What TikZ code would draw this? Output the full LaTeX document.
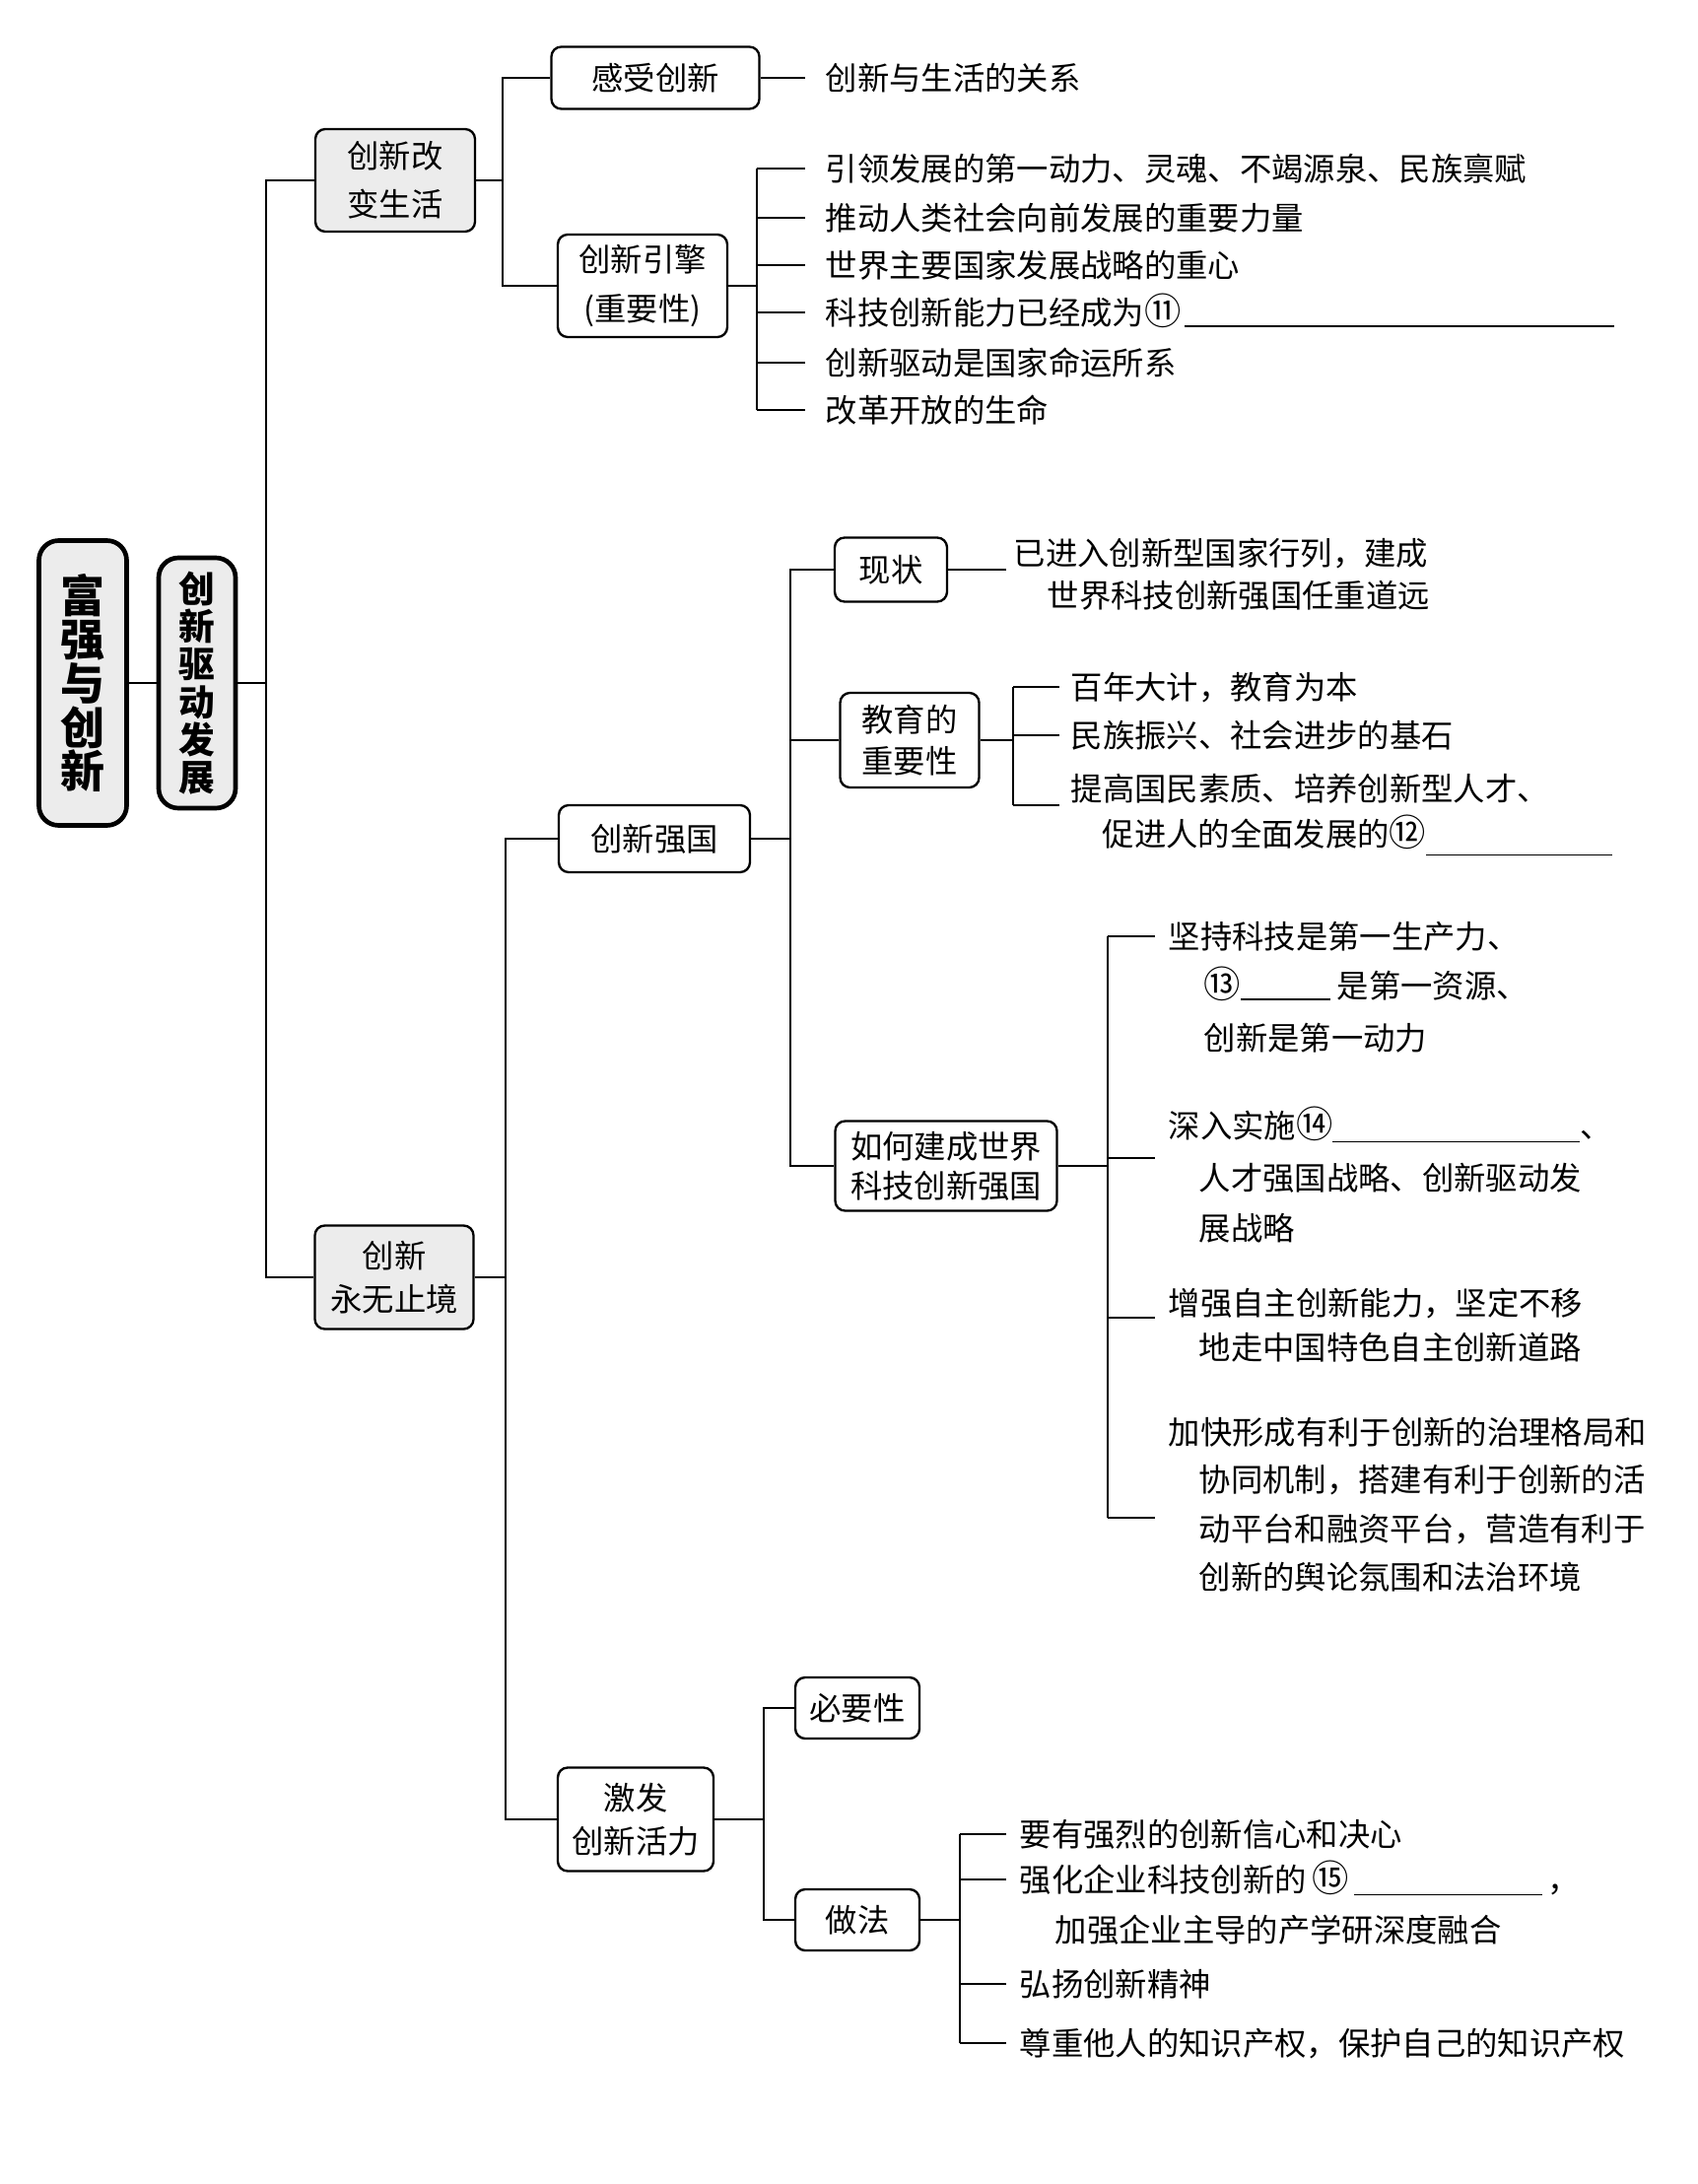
\documentclass[tikz,border=0pt]{standalone}
\usepackage{fontspec}
\setmainfont{Noto Sans CJK SC}
\newcommand{\ft}{\fontsize{9.7}{12}\selectfont}
\newcommand{\fsk}[1]{\fontsize{9.7}{#1}\selectfont}
\newcommand{\cnum}[1]{{\fontsize{11.2}{12}\selectfont #1}}
\begin{document}
\begin{tikzpicture}[x=0.3pt,y=-0.3pt,
  ln/.style={line width=0.5pt},
  box/.style={draw, line width=0.7pt, rounded corners=3pt, align=center, inner sep=0pt, font=\ft},
  gbox/.style={box, fill=gray!15},
  rootbox/.style={draw, line width=1.4pt, rounded corners=6pt, fill=gray!15, align=center, inner sep=0pt},
  txt/.style={anchor=west, inner sep=0pt, font=\ft, text height=8.5pt, text depth=1.2pt},
]
\useasboundingbox (0,0) rectangle (1722,2216);
\fill[white] (0,0) rectangle (1722,2216);

% bus coordinates
\coordinate (bA) at (270,0);
\coordinate (bB) at (510,0);
\coordinate (bC) at (768,0);
\coordinate (bD) at (513,0);
\coordinate (bE) at (802,0);
\coordinate (bF) at (1028,0);
\coordinate (bG) at (1124,0);
\coordinate (bH) at (775,0);
\coordinate (bI) at (974,0);

% boxes
\node[rootbox, minimum width=26.7pt, minimum height=86.7pt, font={\fontsize{13.5}{13.4}\selectfont\bfseries}] (root) at (84,693) {富\\强\\与\\创\\新};
\node[rootbox, minimum width=23.4pt, minimum height=76.2pt, font={\fontsize{11}{11.5}\selectfont\bfseries}] (drive) at (200,693) {创\\新\\驱\\动\\发\\展};
\node[gbox, minimum width=48.6pt, minimum height=31.2pt, font=\fsk{14.8}] (life) at (401,183) {创新改\\变生活};
\node[gbox, minimum width=48.3pt, minimum height=31.5pt, font=\fsk{13.1}] (endless) at (400,1296) {创新\\永无止境};
\node[box, minimum width=63.3pt, minimum height=18.9pt] (feel) at (665,79) {感受创新};
\node[box, minimum width=51.6pt, minimum height=31.2pt, font=\fsk{14.8}] (engine) at (652,290) {创新引擎\\(重要性)};
\node[box, minimum width=58.2pt, minimum height=20.4pt] (strong) at (664,851) {创新强国};
\node[box, minimum width=34.2pt, minimum height=19.5pt] (status) at (904,578) {现状};
\node[box, minimum width=42.3pt, minimum height=28.8pt, font=\fsk{12.7}] (edu) at (923,751) {教育的\\重要性};
\node[box, minimum width=67.5pt, minimum height=27.3pt, font=\fsk{11.9}] (howto) at (960,1183) {如何建成世界\\科技创新强国};
\node[box, minimum width=47.4pt, minimum height=31.5pt, font=\fsk{13.1}] (spark) at (645,1846) {激发\\创新活力};
\node[box, minimum width=37.8pt, minimum height=18.6pt] (need) at (870,1733) {必要性};
\node[box, minimum width=37.8pt, minimum height=18.6pt] (method) at (870,1948) {做法};

% texts
\node[txt] (f1) at (837,79) {创新与生活的关系};
\node[txt] (e1) at (837,171) {引领发展的第一动力、灵魂、不竭源泉、民族禀赋};
\node[txt] (e2) at (837,221) {推动人类社会向前发展的重要力量};
\node[txt] (e3) at (837,269) {世界主要国家发展战略的重心};
\node[txt] (e4) at (837,317) {科技创新能力已经成为\cnum{⑪}\hspace{1pt}\rule[-0.8pt]{131pt}{0.5pt}};
\node[txt] (e5) at (837,368) {创新驱动是国家命运所系};
\node[txt] (e6) at (837,416) {改革开放的生命};

\node[txt] (s1) at (1028,561) {已进入创新型国家行列，建成};
\node[txt] (s2) at (1062,604) {世界科技创新强国任重道远};

\node[txt] (d1) at (1086,697) {百年大计，教育为本};
\node[txt] (d2) at (1086,746) {民族振兴、社会进步的基石};
\node[txt] (d3) at (1086,800) {提高国民素质、培养创新型人才、};
\node[txt] (d4) at (1118,846) {促进人的全面发展的\cnum{⑫}\rule[-3pt]{56.7pt}{0.5pt}};

\node[txt] (h1) at (1185,950) {坚持科技是第一生产力、};
\node[txt] (h2) at (1221,1000) {\cnum{⑬}\rule[-0.8pt]{27.3pt}{0.5pt}\hspace{2pt}是第一资源、};
\node[txt] (h3) at (1221,1053) {创新是第一动力};
\node[txt] (h4) at (1185,1142) {深入实施\cnum{⑭}\rule[-1.5pt]{75.3pt}{0.5pt}、};
\node[txt] (h5) at (1216,1195) {人才强国战略、创新驱动发};
\node[txt] (h6) at (1216,1246) {展战略};
\node[txt] (h7) at (1185,1322) {增强自主创新能力，坚定不移};
\node[txt] (h8) at (1216,1367) {地走中国特色自主创新道路};
\node[txt] (h9) at (1185,1453) {加快形成有利于创新的治理格局和};
\node[txt] (h10) at (1216,1501) {协同机制，搭建有利于创新的活};
\node[txt] (h11) at (1216,1551) {动平台和融资平台，营造有利于};
\node[txt] (h12) at (1216,1600) {创新的舆论氛围和法治环境};

\node[txt] (m1) at (1034,1861) {要有强烈的创新信心和决心};
\node[txt] (m2) at (1034,1907) {强化企业科技创新的\,\cnum{⑮}\,\rule[-1.2pt]{57.3pt}{0.5pt}\,，};
\node[txt] (m3) at (1070,1958) {加强企业主导的产学研深度融合};
\node[txt] (m4) at (1034,2013) {弘扬创新精神};
\node[txt] (m5) at (1034,2073) {尊重他人的知识产权，保护自己的知识产权};

% tick end coordinates
\coordinate (td3) at (1075,817);
\coordinate (th2) at (1172,1175);
\coordinate (th3) at (1172,1337);
\coordinate (th4) at (1172,1540);

% connectors
\draw[ln] (root) -- (drive);
\draw[ln] (drive.east) -- (drive.east -| bA);
\draw[ln] (life.west) -- (life.west -| bA) -- (endless.west -| bA) -- (endless.west);

\draw[ln] (life.east) -- (life.east -| bB);
\draw[ln] (feel.west) -- (feel.west -| bB) -- (engine.west -| bB) -- (engine.west);
\draw[ln] (feel.east) -- ([xshift=-6pt]f1.west);

\draw[ln] (engine.east) -- (engine.east -| bC);
\draw[ln] (e1.west -| bC) -- (e6.west -| bC);
\foreach \n in {e1,e2,e3,e4,e5,e6} \draw[ln] (\n.west -| bC) -- ([xshift=-6pt]\n.west);

\draw[ln] (endless.east) -- (endless.east -| bD);
\draw[ln] (strong.west) -- (strong.west -| bD) -- (spark.west -| bD) -- (spark.west);

\draw[ln] (strong.east) -- (strong.east -| bE);
\draw[ln] (status.west) -- (status.west -| bE) -- (howto.west -| bE) -- (howto.west);
\draw[ln] (edu.west) -- (edu.west -| bE);
\draw[ln] (status.east) -- ([xshift=-2pt]s1.west |- status.east);

\draw[ln] (edu.east) -- (edu.east -| bF);
\draw[ln] (d1.west -| bF) -- (td3 -| bF);
\draw[ln] (d1.west -| bF) -- ([xshift=-3.3pt]d1.west);
\draw[ln] (d2.west -| bF) -- ([xshift=-3.3pt]d2.west);
\draw[ln] (td3 -| bF) -- (td3);

\draw[ln] (howto.east) -- (howto.east -| bG);
\draw[ln] (h1.west -| bG) -- (th4 -| bG);
\draw[ln] (h1.west -| bG) -- ([xshift=-3.9pt]h1.west);
\draw[ln] (th2 -| bG) -- (th2);
\draw[ln] (th3 -| bG) -- (th3);
\draw[ln] (th4 -| bG) -- (th4);

\draw[ln] (spark.east) -- (spark.east -| bH);
\draw[ln] (need.west) -- (need.west -| bH) -- (method.west -| bH) -- (method.west);

\draw[ln] (method.east) -- (method.east -| bI);
\draw[ln] (m1.west -| bI) -- (m5.west -| bI);
\foreach \n in {m1,m2,m4,m5} \draw[ln] (\n.west -| bI) -- ([xshift=-3.9pt]\n.west);
\end{tikzpicture}
\end{document}
